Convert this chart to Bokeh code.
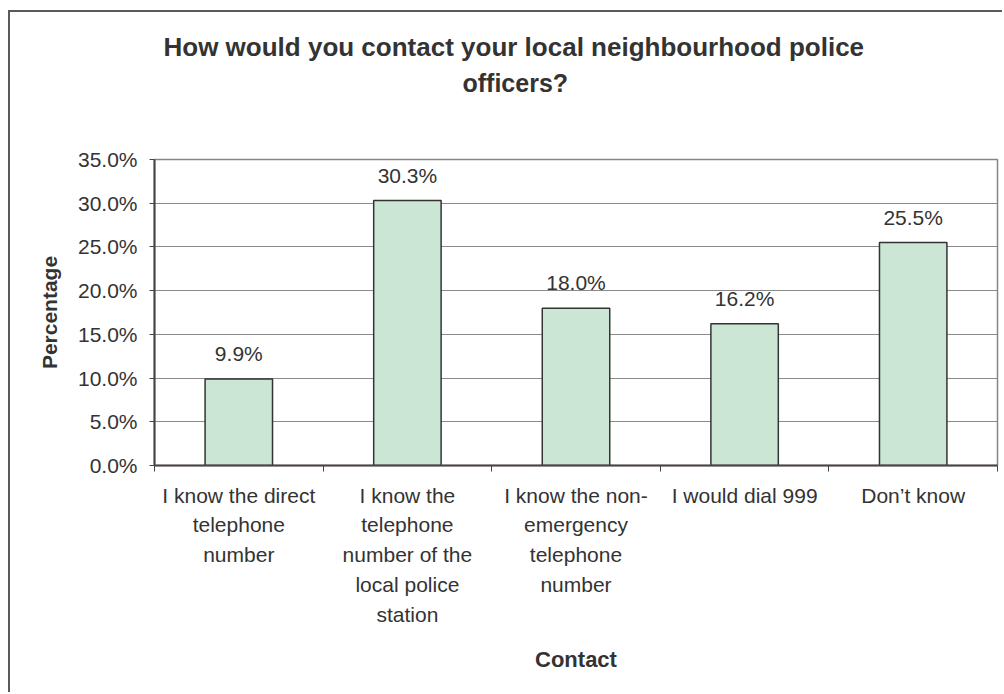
from bokeh.plotting import figure
from bokeh.models import ColumnDataSource, FixedTicker, PrintfTickFormatter, Range1d, Title
from bokeh.core.properties import value
from bokeh.embed import file_html
from bokeh.resources import INLINE

categories = [
    "I know the direct\ntelephone\nnumber",
    "I know the\ntelephone\nnumber of the\nlocal police\nstation",
    "I know the non-\nemergency\ntelephone\nnumber",
    "I would dial 999",
    "Don\u2019t know",
]
percentages = [9.9, 30.3, 18.0, 16.2, 25.5]
y_ticks = [0, 5, 10, 15, 20, 25, 30, 35]
title_lines = ["How would you contact your local neighbourhood police", "officers?"]

FONT = "Liberation Sans"
TXT = "#333333"

centers = [i + 0.5 for i in range(len(categories))]
src = ColumnDataSource(dict(
    x=centers,
    top=percentages,
    lab=[f"{v:.1f}%" for v in percentages],
))

p = figure(width=994, height=682, output_backend="svg", toolbar_location=None,
           x_range=Range1d(0, len(categories)), y_range=Range1d(0, 35),
           min_border_left=144, min_border_top=147, min_border_right=7,
           min_border_bottom=229,
           styles={"margin-left": "8px", "margin-top": "10px",
                   "border-left": "2px solid #5a5a5a", "border-top": "2px solid #5a5a5a"})

p.outline_line_color = "#8c8282"
p.outline_line_width = 1.5
p.background_fill_color = "white"
p.border_fill_color = "white"

p.vbar(x="x", top="top", width=0.4, bottom=0, source=src,
       fill_color="#cce6d5", line_color="#333333", line_width=1.5)

p.text(x="x", y="top", text="lab", source=src, text_align="center",
       text_baseline="bottom", y_offset=-14, text_font=value(FONT),
       text_font_size="21px", text_color=TXT)

# white spacer nearest the frame (opaque so that it takes space), then the two title lines
p.add_layout(Title(text=".", standoff=50, text_font_size="10px",
                   text_color="white"), "above")
p.add_layout(Title(text=title_lines[1], align="left", offset=308, standoff=5,
                   text_font=FONT, text_font_style="bold", text_font_size="25px",
                   text_color=TXT), "above")
p.add_layout(Title(text=title_lines[0], align="left", offset=9, standoff=5,
                   text_font=FONT, text_font_style="bold", text_font_size="26px",
                   text_color=TXT), "above")

# axes
p.xgrid.visible = False
p.ygrid.grid_line_color = "#8a8a8a"
p.ygrid.grid_line_width = 1
p.ygrid.ticker = FixedTicker(ticks=y_ticks)

yax = p.yaxis[0]
yax.ticker = FixedTicker(ticks=y_ticks)
yax.formatter = PrintfTickFormatter(format="%.1f%%")
yax.major_label_text_font = FONT
yax.major_label_text_font_size = "21px"
yax.major_label_text_color = TXT
yax.major_tick_out = 5
yax.major_tick_in = 0
yax.minor_tick_out = 0
yax.minor_tick_in = 0
yax.major_label_standoff = 12
yax.axis_line_color = "#444444"
yax.axis_line_width = 2
yax.major_tick_line_color = "#444444"
yax.axis_label = "Percentage"
yax.axis_label_text_font = FONT
yax.axis_label_text_font_style = "bold"
yax.axis_label_text_font_size = "21px"
yax.axis_label_text_color = TXT
yax.axis_label_standoff = 14

xax = p.xaxis[0]
xax.ticker = FixedTicker(ticks=centers, minor_ticks=list(range(len(categories) + 1)))
xax.major_label_overrides = {c: lab for c, lab in zip(centers, categories)}
xax.major_tick_out = 0
xax.major_tick_in = 0
xax.minor_tick_out = 6
xax.minor_tick_in = 0
xax.minor_tick_line_color = "#444444"
xax.axis_line_color = "#4a4444"
xax.axis_line_width = 2
xax.major_label_standoff = 12
xax.major_label_text_font = FONT
xax.major_label_text_font_size = "21px"
xax.major_label_text_color = TXT
xax.major_label_text_line_height = 1.3
xax.major_label_orientation = "horizontal"
xax.axis_label = "Contact"
xax.axis_label_text_font = FONT
xax.axis_label_text_font_style = "bold"
xax.axis_label_text_font_size = "22px"
xax.axis_label_text_color = TXT
xax.axis_label_standoff = 18

open("out.html", "w").write(file_html(p, INLINE))
